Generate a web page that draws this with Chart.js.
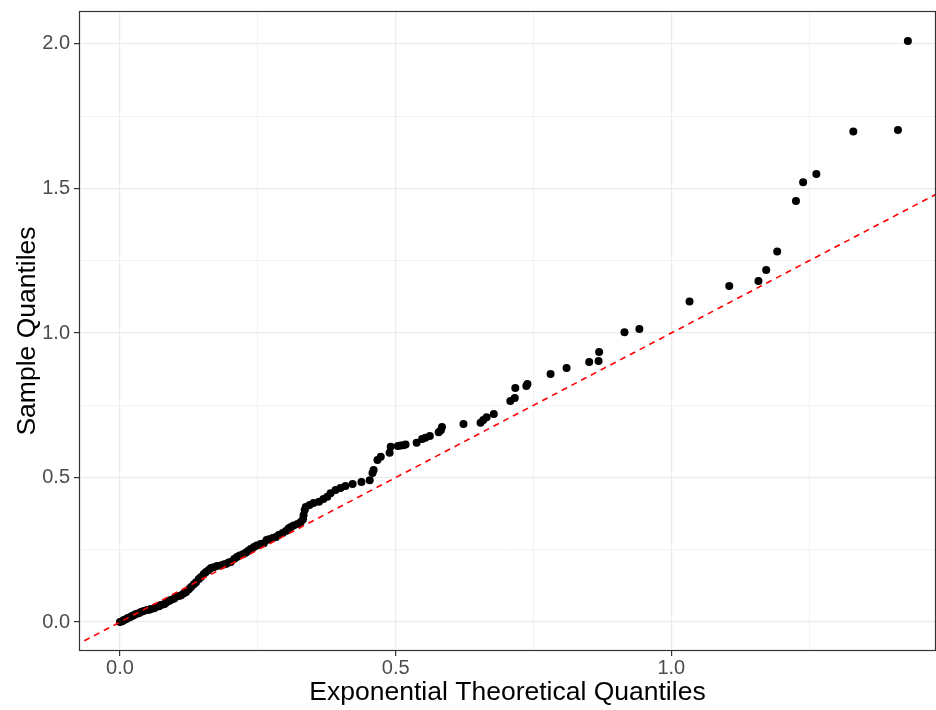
<!DOCTYPE html>
<html>
<head>
<meta charset="utf-8">
<script src="https://cdn.jsdelivr.net/npm/chart.js@4.4.0/dist/chart.umd.min.js"></script>
<style>
  html, body { margin: 0; padding: 0; background: #fff; }
  #wrap { width: 936px; height: 710px; position: relative; }
</style>
</head>
<body>
<div id="wrap"><canvas id="qqChart"></canvas></div>
<script>
// theoretical (x) and sample (y) quantiles
const theoretical = [
  0.000, 0.004, 0.007, 0.011, 0.014, 0.018, 0.022, 0.025, 0.029, 0.034,
  0.038, 0.043, 0.049, 0.053, 0.056, 0.062, 0.065, 0.071, 0.074, 0.080,
  0.083, 0.089, 0.092, 0.098, 0.101, 0.107, 0.111, 0.116, 0.120, 0.125,
  0.129, 0.134, 0.138, 0.143, 0.147, 0.152, 0.156, 0.161, 0.165, 0.170,
  0.176, 0.183, 0.188, 0.192, 0.197, 0.201, 0.207, 0.212, 0.217, 0.223,
  0.228, 0.232, 0.237, 0.243, 0.248, 0.255, 0.261, 0.266, 0.270, 0.277,
  0.283, 0.288, 0.295, 0.301, 0.306, 0.310, 0.315, 0.322, 0.328, 0.332,
  0.333, 0.335, 0.337, 0.344, 0.351, 0.361, 0.369, 0.376, 0.382, 0.391,
  0.400, 0.409, 0.422, 0.438, 0.453, 0.458, 0.460, 0.467, 0.473, 0.489,
  0.491, 0.504, 0.509, 0.514, 0.518, 0.538, 0.548, 0.554, 0.562, 0.578,
  0.582, 0.584, 0.623, 0.654, 0.659, 0.665, 0.678, 0.708, 0.716, 0.717,
  0.737, 0.739, 0.781, 0.810, 0.851, 0.868, 0.869, 0.915, 0.942, 1.033,
  1.105, 1.158, 1.172, 1.192, 1.226, 1.239, 1.263, 1.330, 1.411, 1.429,
];
const sample = [
  0.000, 0.003, 0.007, 0.010, 0.014, 0.017, 0.021, 0.024, 0.028, 0.031,
  0.035, 0.038, 0.042, 0.043, 0.045, 0.048, 0.052, 0.055, 0.059, 0.062,
  0.066, 0.073, 0.076, 0.081, 0.087, 0.090, 0.093, 0.100, 0.104, 0.114,
  0.121, 0.131, 0.138, 0.149, 0.156, 0.166, 0.173, 0.180, 0.187, 0.190,
  0.194, 0.196, 0.199, 0.201, 0.206, 0.208, 0.218, 0.225, 0.230, 0.235,
  0.240, 0.246, 0.253, 0.260, 0.265, 0.270, 0.273, 0.284, 0.287, 0.291,
  0.294, 0.301, 0.308, 0.315, 0.325, 0.329, 0.334, 0.339, 0.346, 0.356,
  0.370, 0.388, 0.398, 0.405, 0.412, 0.416, 0.426, 0.434, 0.446, 0.457,
  0.464, 0.471, 0.478, 0.485, 0.491, 0.516, 0.526, 0.561, 0.572, 0.586,
  0.607, 0.609, 0.611, 0.612, 0.614, 0.620, 0.633, 0.638, 0.644, 0.657,
  0.664, 0.675, 0.685, 0.690, 0.699, 0.709, 0.720, 0.765, 0.775, 0.810,
  0.817, 0.824, 0.858, 0.879, 0.900, 0.903, 0.934, 1.003, 1.014, 1.109,
  1.163, 1.180, 1.218, 1.282, 1.457, 1.522, 1.550, 1.697, 1.702, 2.010,
];

// reference line y = x, drawn across the panel
const refLineX = [-0.1, 1.6];

// axis ranges, gridlines and labelled ticks
const xRange = [-0.0743, 1.48];
const yRange = [-0.1, 2.114];
const xGrid = [0, 0.25, 0.5, 0.75, 1.0, 1.25];
const yGrid = [0, 0.25, 0.5, 0.75, 1.0, 1.25, 1.5, 1.75, 2.0];
const xLabelled = [0, 0.5, 1.0];
const yLabelled = [0, 0.5, 1.0, 1.5, 2.0];

const FONT = "'Liberation Sans', Arial, Helvetica, sans-serif";

const isMajor = (list, v) => list.some((t) => Math.abs(t - v) < 1e-9);

const panelBorder = {
  id: "panelBorder",
  afterDraw(chart) {
    const { ctx, chartArea: a } = chart;
    ctx.save();
    ctx.strokeStyle = "#333333";
    ctx.lineWidth = 1.2;
    ctx.strokeRect(a.left + 0.5, a.top + 0.5, a.right - a.left - 1, a.bottom - a.top - 1);
    ctx.restore();
  },
};

function axisOptions(range, grid, labelled, axis) {
  return {
    type: "linear",
    min: range[0],
    max: range[1],
    afterBuildTicks: (scale) => {
      scale.ticks = grid.map((v) => ({ value: v }));
    },
    afterFit: (scale) => {
      if (axis === "x") scale.height = 59;
      else scale.width = 79;
      // labels sit inside the panel range, no extra room needed
      scale.paddingTop = 0;
      scale.paddingBottom = 0;
      scale.paddingLeft = 0;
      scale.paddingRight = 0;
    },
    grid: {
      color: "#ebebeb",
      lineWidth: (ctx) => (isMajor(labelled, ctx.tick.value) ? 1.2 : 0.6),
      tickColor: (ctx) => (isMajor(labelled, ctx.tick.value) ? "#333333" : "rgba(0,0,0,0)"),
      tickLength: 5,
      drawTicks: true,
    },
    border: { display: false },
    ticks: {
      autoSkip: false,
      maxRotation: 0,
      padding: axis === "x" ? 0 : 4,
      color: "#4d4d4d",
      font: { family: FONT, size: 20 },
      callback: (v) => (isMajor(labelled, v) ? Number(v).toFixed(1) : ""),
    },
    title: {
      display: true,
      text: axis === "x" ? "Exponential Theoretical Quantiles" : "Sample Quantiles",
      color: "#000000",
      font: { family: FONT, size: 26.5 },
      padding: axis === "x" ? { top: 0, bottom: 1 } : { top: 12, bottom: 0 },
    },
  };
}

new Chart(document.getElementById("qqChart"), {
  type: "scatter",
  data: {
    datasets: [
      {
        type: "line",
        label: "reference",
        data: refLineX.map((x) => ({ x: x, y: x })),
        borderColor: "#ff0000",
        borderWidth: 1.6,
        borderDash: [6, 5],
        pointRadius: 0,
        fill: false,
      },
      {
        label: "sample",
        data: theoretical.map((x, i) => ({ x: x, y: sample[i] })),
        backgroundColor: "#000000",
        borderWidth: 0,
        pointRadius: 4,
      },
    ],
  },
  options: {
    responsive: true,
    maintainAspectRatio: false,
    animation: false,
    layout: { autoPadding: false, padding: { top: 11, right: 0, left: 0, bottom: 0 } },
    plugins: {
      legend: { display: false },
      tooltip: { enabled: false },
    },
    scales: {
      x: axisOptions(xRange, xGrid, xLabelled, "x"),
      y: axisOptions(yRange, yGrid, yLabelled, "y"),
    },
  },
  plugins: [panelBorder],
});
</script>
</body>
</html>
